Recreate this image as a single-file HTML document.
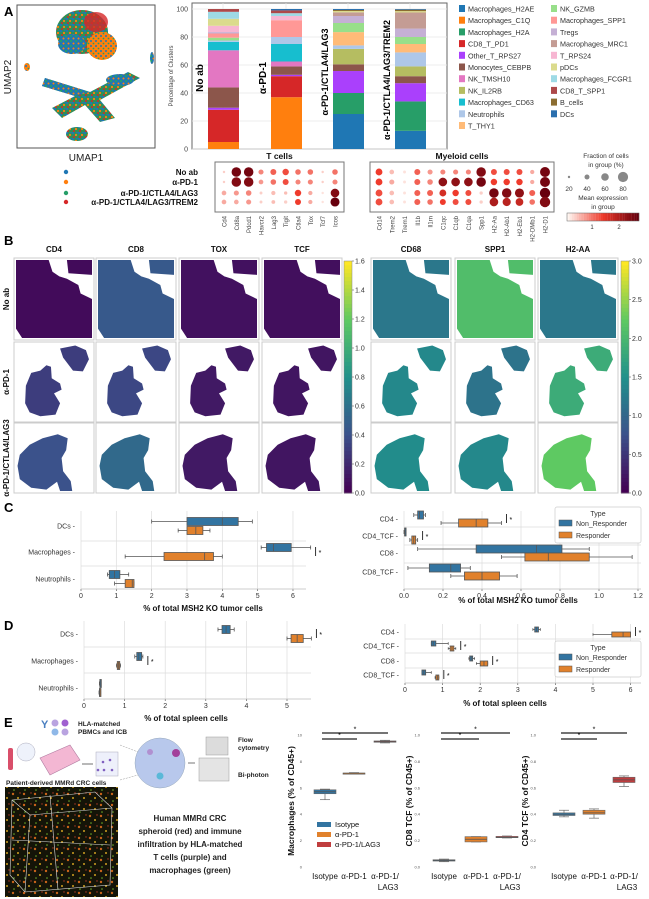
<!DOCTYPE html>
<html><head><meta charset="utf-8"><style>
html,body{margin:0;padding:0;background:#fff;}
svg{display:block;font-family:"Liberation Sans",Arial,sans-serif;}
</style></head><body>
<svg id="fig" width="649" height="899" viewBox="0 0 649 899" xmlns="http://www.w3.org/2000/svg">
<defs>
<pattern id="umapTex" width="6" height="6" patternUnits="userSpaceOnUse">
<rect width="6" height="6" fill="#2f8f56"/><circle cx="1" cy="1" r="1.2" fill="#1f77b4"/><circle cx="4" cy="3" r="1.1" fill="#ff7f0e"/><circle cx="2" cy="5" r="1" fill="#d62728"/><circle cx="5" cy="0.5" r="0.9" fill="#1f77b4"/>
</pattern>
<pattern id="umapTexB" width="5" height="5" patternUnits="userSpaceOnUse">
<rect width="5" height="5" fill="#1f77b4"/><circle cx="1" cy="1" r="1.1" fill="#279e68"/><circle cx="3.5" cy="3.5" r="1" fill="#ff7f0e"/>
</pattern>
<pattern id="umapTexO" width="5" height="5" patternUnits="userSpaceOnUse">
<rect width="5" height="5" fill="#ff7f0e"/><circle cx="1" cy="1" r="1" fill="#1f77b4"/><circle cx="3.5" cy="3.5" r="0.9" fill="#279e68"/>
</pattern>
<pattern id="microTex" width="11" height="11" patternUnits="userSpaceOnUse">
<rect width="11" height="11" fill="#141408"/><circle cx="2" cy="2" r="1.2" fill="#c8641a"/><circle cx="7" cy="6" r="1" fill="#d0a020"/><circle cx="3" cy="9" r="0.8" fill="#6fb02a"/><circle cx="9" cy="1" r="0.7" fill="#b03a26"/>
</pattern>
</defs>
<g id="root"></g>
</svg>
<script>
// ---------- DATA ----------
const clusterNames = ["Macrophages_H2AE","Macrophages_C1Q","Macrophages_H2A","CD8_T_PD1","Other_T_RPS27","Monocytes_CEBPB","NK_TMSH10","NK_IL2RB","Macrophages_CD63","Neutrophils","T_THY1","NK_GZMB","Macrophages_SPP1","Tregs","Macrophages_MRC1","T_RPS24","pDCs","Macrophages_FCGR1","CD8_T_SPP1","B_cells","DCs"];
const clusterColors = ["#1f77b4","#ff7f0e","#279e68","#d62728","#aa40fc","#8c564b","#e377c2","#b5bd61","#17becf","#aec7e8","#ffbb78","#98df8a","#ff9896","#c5b0d5","#c49c94","#f7b6d2","#dbdb8d","#9edae5","#ad494a","#8c6d31","#2a6fae"];
const barGroups = ["No ab","α-PD-1","α-PD-1/CTLA4/LAG3","α-PD-1/CTLA4/LAG3/TREM2"];
const barNoAb = [0,5,0,23,1.5,14.5,26.5,0,6,1,0,2,3,1,0,4.5,5,5,2,0,0];
const barPD1 = [0,37,0,15,1,6,3.5,0,12.5,5,0,0,12,0,0,3,0,2,2,0,1];
const barLAG3 = [25,0,15,0,15.7,4.8,0,11,0,2.5,9.5,6.5,0,5,2.6,0,1,0,0,0.7,0.7];
const barTREM2 = [13,0,21,0,13,5,0,7,0,10,6,5,0,6,11.5,0,1,0,0,1,0.5];
const barTicks = [0,20,40,60,80,100];

const dotRows = ["No ab","α-PD-1","α-PD-1/CTLA4/LAG3","α-PD-1/CTLA4/LAG3/TREM2"];
const groupColors = ["#1f77b4","#ff7f0e","#279e68","#d62728"];
const tGenes = ["Cd4","Cd8a","Pdcd1","Havcr2","Lag3","Tigit","Ctla4","Tox","Tcf7","Icos"];
const tSize = [[0.1,0.9,0.9,0.4,0.5,0.55,0.45,0.45,0.1,0.45],[0.1,0.9,0.9,0.35,0.45,0.5,0.4,0.4,0.1,0.4],[0.35,0.4,0.45,0.15,0.3,0.2,0.55,0.3,0.1,0.8],[0.35,0.35,0.4,0.15,0.25,0.2,0.5,0.3,0.1,0.85]];
const tExpr = [[0.1,0.95,0.95,0.3,0.4,0.45,0.35,0.35,0.1,0.35],[0.1,0.9,0.9,0.25,0.35,0.45,0.3,0.3,0.1,0.3],[0.2,0.25,0.3,0.1,0.15,0.15,0.5,0.2,0.05,0.9],[0.2,0.2,0.25,0.1,0.15,0.1,0.5,0.2,0.05,1.0]];
const mGenes = ["Cd14","Trem2","Trem1","Il1b","Il1rn","C1qc","C1qb","C1qa","Spp1","H2-Aa","H2-Ab1","H2-Eb1","H2-DMb1","H2-D1"];
const mSize = [[0.6,0.35,0.15,0.5,0.4,0.4,0.4,0.4,0.9,0.5,0.5,0.5,0.3,0.95],[0.6,0.4,0.15,0.5,0.45,0.8,0.8,0.8,0.9,0.55,0.55,0.55,0.3,0.95],[0.6,0.35,0.15,0.5,0.5,0.6,0.55,0.5,0.2,0.9,0.9,0.85,0.5,1],[0.6,0.35,0.15,0.5,0.45,0.5,0.5,0.5,0.2,0.8,0.75,0.7,0.45,1]];
const mExpr = [[0.5,0.15,0.05,0.4,0.25,0.3,0.3,0.3,0.9,0.45,0.45,0.45,0.2,0.95],[0.5,0.2,0.05,0.4,0.3,0.85,0.85,0.85,0.95,0.5,0.5,0.5,0.2,0.95],[0.45,0.15,0.05,0.4,0.4,0.6,0.5,0.45,0.1,0.95,0.9,0.85,0.4,1],[0.45,0.15,0.05,0.4,0.35,0.5,0.45,0.45,0.1,0.75,0.7,0.65,0.35,0.9]];

const spatialGenesT = ["CD4","CD8","TOX","TCF"];
const spatialGenesM = ["CD68","SPP1","H2-AA"];
const spatialRows = ["No ab","α-PD-1","α-PD-1/CTLA4/LAG3"];
const spatialT = [[0.05,0.45,0.08,0.07],[0.3,0.35,0.12,0.1],[0.4,0.55,0.12,0.1]];
const spatialM = [[1.2,2.1,1.2],[1.4,1.15,1.85],[1.45,1.4,2.25]];
const cbarTTicks = [0,0.2,0.4,0.6,0.8,1.0,1.2,1.4,1.6];
const cbarMTicks = [0,0.5,1.0,1.5,2.0,2.5,3.0];

// box stats: [min, q1, median, q3, max]
const cLeftCats = ["DCs","Macrophages","Neutrophils"];
const cLeftNon = [[2.0,3.0,4.0,4.45,4.85],[5.1,5.25,5.45,5.95,6.5],[0.75,0.8,0.95,1.1,1.35]];
const cLeftResp = [[2.75,3.0,3.25,3.45,3.65],[1.25,2.35,3.5,3.75,4.0],[0.95,1.25,1.45,1.5,1.5]];
const cLeftTicks = [0,1,2,3,4,5,6];
const cRightCats = ["CD4","CD4_TCF","CD8","CD8_TCF"];
const cRightNon = [[0.05,0.07,0.08,0.1,0.11],[0.0,0.003,0.005,0.008,0.01],[0.07,0.37,0.68,0.81,0.95],[0.02,0.13,0.24,0.29,0.34]];
const cRightResp = [[0.19,0.28,0.37,0.43,0.5],[0.03,0.04,0.05,0.06,0.07],[0.5,0.62,0.74,0.95,1.17],[0.24,0.31,0.4,0.49,0.58]];
const cRightTicks = [0,0.2,0.4,0.6,0.8,1.0,1.2];
const dLeftNon = [[3.3,3.4,3.5,3.6,3.7],[1.25,1.3,1.35,1.42,1.45],[0.38,0.39,0.4,0.41,0.42]];
const dLeftResp = [[5.0,5.1,5.25,5.4,5.6],[0.8,0.82,0.85,0.88,0.9],[0.37,0.38,0.39,0.4,0.41]];
const dLeftTicks = [0,1,2,3,4,5];
const dRightNon = [[3.4,3.45,3.5,3.55,3.6],[0.7,0.7,0.75,0.82,1.15],[1.7,1.72,1.76,1.8,1.85],[0.45,0.45,0.5,0.55,0.7]];
const dRightResp = [[5.0,5.5,5.8,6.0,6.0],[1.15,1.2,1.25,1.3,1.35],[1.9,2.0,2.1,2.2,2.2],[0.8,0.82,0.86,0.9,0.9]];
const dRightTicks = [0,1,2,3,4,5,6];

const eGroups = ["Isotype","α-PD-1","α-PD-1/LAG3"];
const eColors = ["#3274a1","#e1812c","#c03d3e"];
const eMac = [[5.1,5.55,5.7,5.85,5.9],[7.05,7.08,7.1,7.12,7.15],[9.4,9.45,9.5,9.55,9.6]];
const eCD8 = [[0.04,0.045,0.05,0.055,0.06],[0.19,0.19,0.21,0.23,0.23],[0.22,0.222,0.225,0.232,0.235]];
const eCD4 = [[0.38,0.39,0.4,0.41,0.43],[0.37,0.4,0.41,0.43,0.44],[0.61,0.64,0.66,0.68,0.69]];
const eMacTicks = [0,2,4,6,8,10];
const eFracTicks = [0,0.2,0.4,0.6,0.8,1.0];

// ---------- HELPERS ----------
const NS="http://www.w3.org/2000/svg";
const root=document.getElementById('root');
function mk(tag,attrs,parent){const e=document.createElementNS(NS,tag);for(const k in attrs)e.setAttribute(k,attrs[k]);(parent||root).appendChild(e);return e;}
function txt(x,y,s,size,opts,parent){const o=Object.assign({x:x,y:y,'font-size':size,fill:'#222'},opts||{});const t=mk('text',o,parent);t.textContent=s;return t;}
function reds(v){v=Math.max(0,Math.min(1,v));const a=[255,245,240],b=[239,59,44],c=[103,0,13];let r,g,bl;if(v<0.5){const t=v/0.5;r=a[0]+(b[0]-a[0])*t;g=a[1]+(b[1]-a[1])*t;bl=a[2]+(b[2]-a[2])*t;}else{const t=(v-0.5)/0.5;r=b[0]+(c[0]-b[0])*t;g=b[1]+(c[1]-b[1])*t;bl=b[2]+(c[2]-b[2])*t;}return `rgb(${r|0},${g|0},${bl|0})`;}
function viridis(v){v=Math.max(0,Math.min(1,v));const st=[[68,1,84],[59,82,139],[33,145,140],[94,201,98],[253,231,37]];const p=v*4,i=Math.min(3,Math.floor(p)),t=p-i;const a=st[i],b=st[i+1];return `rgb(${(a[0]+(b[0]-a[0])*t)|0},${(a[1]+(b[1]-a[1])*t)|0},${(a[2]+(b[2]-a[2])*t)|0})`;}
function label(x,y,s){const t=txt(x,y,s,13,{'font-weight':'bold',fill:'#000'});}

// ---------- PANEL A ----------
label(4,16,'A');
{const g=mk('g',{});
mk('rect',{x:17,y:5,width:138,height:143,fill:'#fff',stroke:'#555','stroke-width':1},g);
mk('ellipse',{cx:82,cy:32,rx:26,ry:22,fill:'url(#umapTex)'},g);
mk('ellipse',{cx:96,cy:22,rx:12,ry:10,fill:'#d62728',opacity:0.8},g);
mk('ellipse',{cx:102,cy:46,rx:15,ry:14,fill:'url(#umapTexO)'},g);
mk('ellipse',{cx:72,cy:44,rx:14,ry:10,fill:'url(#umapTexB)'},g);
mk('path',{d:'M45,78 L90,92 L128,72 L140,78 L100,100 L115,118 L100,122 L85,105 L62,118 L52,108 L75,96 L42,86 Z',fill:'url(#umapTex)'},g);
mk('path',{d:'M45,78 L90,92 L75,96 L42,86 Z',fill:'url(#umapTexB)'},g);
mk('ellipse',{cx:120,cy:80,rx:14,ry:6,fill:'url(#umapTexB)'},g);
mk('ellipse',{cx:77,cy:134,rx:11,ry:7,fill:'url(#umapTex)'},g);
mk('ellipse',{cx:27,cy:67,rx:3,ry:4,fill:'url(#umapTexO)'},g);
mk('ellipse',{cx:152,cy:58,rx:2,ry:6,fill:'url(#umapTexB)'},g);
let t=txt(11,77,'UMAP2',10,{'text-anchor':'middle',transform:'rotate(-90 11 77)'});
t=txt(86,161,'UMAP1',10,{'text-anchor':'middle'});}

{const g=mk('g',{});
const y0=149,y100=9,yS=v=>y0-(v/100)*(y0-y100);
mk('rect',{x:192,y:3,width:255,height:146,fill:'#fff',stroke:'#666','stroke-width':1},g);
barTicks.forEach(v=>{mk('line',{x1:192,x2:447,y1:yS(v),y2:yS(v),stroke:'#e6e6e6','stroke-width':0.7},g);const t=txt(188,yS(v)+2.5,String(v),7,{'text-anchor':'end',fill:'#444'},g);});
const series=[barNoAb,barPD1,barLAG3,barTREM2];const xs=[208,271,333,395];
series.forEach((arr,bi)=>{mk('line',{x1:xs[bi]+15,x2:xs[bi]+15,y1:3,y2:149,stroke:'#e6e6e6','stroke-width':0.7},g);let cum=0;arr.forEach((v,ci)=>{if(v<=0)return;const r=mk('rect',{x:xs[bi],y:yS(cum+v),width:31,height:yS(cum)-yS(cum+v),fill:clusterColors[ci]},g);cum+=v;});
const lx=xs[bi]-5;const ly=bi<2?78:(bi==2?72:80);const t=txt(lx,ly,barGroups[bi],bi<2?10:9,{'font-weight':'bold','text-anchor':'middle',fill:'#000',transform:`rotate(-90 ${lx} ${ly})`},g);});
const t=txt(173,76,'Percentage of Clusters',6,{'text-anchor':'middle',fill:'#444',transform:'rotate(-90 173 76)'},g);}

{const g=mk('g',{});
clusterNames.forEach((n,i)=>{const col=i<11?0:1,row=i<11?i:i-11;const x=col?551:459,y=6+row*11.7;const r=mk('rect',{x:x,y:y-1,width:6,height:7,fill:clusterColors[i]},g);const t=txt(x+9,y+5.5,n,7.2,{fill:'#333'},g);});}

{const g=mk('g',{});
const rowY=[172,182,193,202];
dotRows.forEach((n,i)=>{const t=txt(198,rowY[i]+3,n,8,{'font-weight':'bold','text-anchor':'end',fill:'#111'},g);const c=mk('circle',{cx:66,cy:rowY[i],r:2.2,fill:groupColors[i]},g);});
function block(x0,x1,genes,size,expr,title,name){mk('rect',{x:x0,y:162,width:x1-x0,height:50,fill:'#fff',stroke:'#777','stroke-width':1},g);const st=(x1-x0-18)/(genes.length-1);
let t=txt((x0+x1)/2,159,title,8.5,{'font-weight':'bold','text-anchor':'middle',fill:'#111'},g);
genes.forEach((gn,j)=>{const x=x0+9+j*st;size.forEach((row,i)=>{const c=mk('circle',{cx:x,cy:rowY[i],r:0.8+row[j]*4.4,fill:reds(expr[i][j])},g);});const tt=txt(x+2.5,216,gn,6,{'text-anchor':'end',fill:'#444',transform:`rotate(-90 ${x+2.5} 216)`},g);});}
block(215,344,tGenes,tSize,tExpr,'T cells','t-cells');
block(370,554,mGenes,mSize,mExpr,'Myeloid cells','myeloid-cells');
let t=txt(606,158,'Fraction of cells',6.5,{'text-anchor':'middle',fill:'#333'},g);
t=txt(606,167,'in group (%)',6.5,{'text-anchor':'middle',fill:'#333'},g);
[20,40,60,80].forEach((v,i)=>{const c=mk('circle',{cx:569+i*18,cy:177,r:1.2+i*1.3,fill:'#888'},g);const tt=txt(569+i*18,191,String(v),6.5,{'text-anchor':'middle',fill:'#333'},g);});
t=txt(603,200,'Mean expression',6.5,{'text-anchor':'middle',fill:'#333'},g);
t=txt(603,209,'in group',6.5,{'text-anchor':'middle',fill:'#333'},g);
for(let i=0;i<30;i++){mk('rect',{x:567+i*2.4,y:213,width:2.5,height:8,fill:reds(i/29)},g);}
mk('rect',{x:567,y:213,width:72,height:8,fill:'none',stroke:'#666','stroke-width':0.5},g);
t=txt(592,229,'1',6,{'text-anchor':'middle',fill:'#333'},g);
t=txt(619,229,'2',6,{'text-anchor':'middle',fill:'#333'},g);}

// ---------- PANEL B ----------
label(4,245,'B');
{const g=mk('g',{});
const shapes=[
'M0,0 L0.43,0 L0.48,0.15 L0.57,0.21 L0.67,0.24 L0.82,0.32 L0.85,0.43 L1,0.5 L1,1 L0.08,1 L0,0.88 Z M0.67,0 L1,0 L1,0.19 L0.69,0.17 Z',
'M0.2,0.38 L0.32,0.35 L0.4,0.28 L0.46,0.3 L0.47,0.45 L0.58,0.52 L0.6,0.6 L0.5,0.65 L0.58,0.78 L0.52,0.93 L0.32,0.95 L0.18,0.9 L0.12,0.78 L0.13,0.55 Z M0.58,0.06 L0.78,0.02 L0.92,0.08 L0.96,0.2 L0.88,0.36 L0.75,0.35 L0.62,0.18 Z',
'M0.05,0.45 L0.18,0.3 L0.35,0.2 L0.55,0.14 L0.68,0.2 L0.66,0.38 L0.6,0.5 L0.62,0.7 L0.72,0.85 L0.74,1 L0.58,1 L0.54,0.86 L0.4,0.98 L0.2,0.95 L0.05,0.82 L0.02,0.62 Z'];
const colXT=[14,96,179,262],colXM=[371,455,538],rowYs=[258,342,423],rowH=[82,80,70],tileW=80;
function tile(x,y,w,h,shapeIdx,color,name){mk('rect',{x:x,y:y,width:w,height:h,fill:'#fff',stroke:'#ccc','stroke-width':1},g);const p=mk('path',{d:shapes[shapeIdx],fill:color,transform:`translate(${x+2} ${y+2}) scale(${w-4} ${h-4})`},g);}
spatialGenesT.forEach((gn,j)=>{const t=txt(colXT[j]+40,252,gn,8,{'font-weight':'bold','text-anchor':'middle',fill:'#111'},g);spatialRows.forEach((r,i)=>tile(colXT[j],rowYs[i],tileW,rowH[i],i,viridis(spatialT[i][j]/1.6),'tile-'+gn+'-'+i));});
spatialGenesM.forEach((gn,j)=>{const t=txt(colXM[j]+40,252,gn,8,{'font-weight':'bold','text-anchor':'middle',fill:'#111'},g);spatialRows.forEach((r,i)=>tile(colXM[j],rowYs[i],tileW,rowH[i],i,viridis(spatialM[i][j]/3.0),'tile-'+gn+'-'+i));});
spatialRows.forEach((r,i)=>{const cy=rowYs[i]+rowH[i]/2;const t=txt(9,cy,r,8,{'font-weight':'bold','text-anchor':'middle',fill:'#111',transform:`rotate(-90 9 ${cy})`},g);});
function cbar(x,max,ticks,name){const top=261,bot=493;for(let i=0;i<60;i++){mk('rect',{x:x,y:bot-(i+1)*(bot-top)/60,width:8,height:(bot-top)/60+0.5,fill:viridis(i/59)},g);}mk('rect',{x:x,y:top,width:8,height:bot-top,fill:'none',stroke:'#888','stroke-width':0.5},g);ticks.forEach(v=>{const y=bot-v/max*(bot-top);mk('line',{x1:x+8,x2:x+10,y1:y,y2:y,stroke:'#444','stroke-width':0.5},g);const t=txt(x+11,y+2.5,v.toFixed(1),7,{fill:'#333'},g);});}
cbar(344,1.6,cbarTTicks,'t-colorbar');cbar(621,3.0,cbarMTicks,'m-colorbar');}

// ---------- BOX HELPERS ----------
function hbox(g,xS,cy,s,color,hh,name){mk('line',{x1:xS(s[0]),x2:xS(s[1]),y1:cy,y2:cy,stroke:'#555','stroke-width':0.8},g);mk('line',{x1:xS(s[3]),x2:xS(s[4]),y1:cy,y2:cy,stroke:'#555','stroke-width':0.8},g);mk('line',{x1:xS(s[0]),x2:xS(s[0]),y1:cy-hh/2,y2:cy+hh/2,stroke:'#555','stroke-width':0.8},g);mk('line',{x1:xS(s[4]),x2:xS(s[4]),y1:cy-hh/2,y2:cy+hh/2,stroke:'#555','stroke-width':0.8},g);const r=mk('rect',{x:xS(s[1]),y:cy-hh,width:Math.max(1.5,xS(s[3])-xS(s[1])),height:hh*2,fill:color,stroke:'#555','stroke-width':0.8},g);mk('line',{x1:xS(s[2]),x2:xS(s[2]),y1:cy-hh,y2:cy+hh,stroke:'#555','stroke-width':0.8},g);}
function hplot(opts){const g=mk('g',{});const xS=v=>opts.x0+v*opts.k;
mk('rect',{x:opts.x0,y:opts.top,width:opts.right-opts.x0,height:opts.bot-opts.top,fill:'#fff'},g);
opts.ticks.forEach(v=>{mk('line',{x1:xS(v),x2:xS(v),y1:opts.top,y2:opts.bot,stroke:'#ddd','stroke-width':0.7},g);mk('line',{x1:xS(v),x2:xS(v),y1:opts.bot,y2:opts.bot+2,stroke:'#444','stroke-width':0.6},g);const t=txt(xS(v),opts.bot+9,opts.fmt(v),7,{'text-anchor':'middle',fill:'#333'},g);});
mk('line',{x1:opts.x0,x2:opts.right,y1:opts.bot,y2:opts.bot,stroke:'#bbb','stroke-width':0.7},g);
opts.seps.forEach(y=>mk('line',{x1:opts.x0,x2:opts.right,y1:y,y2:y,stroke:'#ddd','stroke-width':0.7},g));
opts.cats.forEach((c,i)=>{const cy=opts.cy[i];const t=txt(opts.x0-6,cy+2.5,c+' -',7,{'text-anchor':'end',fill:'#333'},g);hbox(g,xS,cy-opts.off,opts.non[i],'#3274a1',opts.hh,'box-non-responder-'+c);hbox(g,xS,cy+opts.off,opts.resp[i],'#e1812c',opts.hh,'box-responder-'+c);if(opts.sig[i]){const mx=xS(Math.max(opts.non[i][4],opts.resp[i][4]))+5;mk('line',{x1:mx,x2:mx,y1:cy-5,y2:cy+4,stroke:'#000','stroke-width':0.8},g);const st=txt(mx+3,cy+3,'*',7,{fill:'#000'},g);}});
const t=txt(opts.xl[0],opts.xl[1],opts.xlabel,8,{'font-weight':'bold','text-anchor':'middle',fill:'#111'},g);
if(opts.legend){const [lx,ly]=opts.legend;const lg=mk('g',{},g);mk('rect',{x:lx,y:ly,width:86,height:36,fill:'#fff',stroke:'#ccc','stroke-width':0.7,rx:2},lg);let tt=txt(lx+43,ly+9,'Type',7,{'text-anchor':'middle',fill:'#333'},lg);mk('rect',{x:lx+4,y:ly+13,width:13,height:6,fill:'#3274a1',stroke:'#555','stroke-width':0.5},lg);tt=txt(lx+21,ly+19,'Non_Responder',7,{fill:'#333'},lg);mk('rect',{x:lx+4,y:ly+25,width:13,height:6,fill:'#e1812c',stroke:'#555','stroke-width':0.5},lg);tt=txt(lx+21,ly+31,'Responder',7,{fill:'#333'},lg);}}

// ---------- PANEL C ----------
label(4,512,'C');
hplot({name:'tumor-myeloid-boxplot',x0:81,k:35.33,right:306,top:511,bot:589,ticks:cLeftTicks,fmt:v=>String(v),seps:[541,566],cats:cLeftCats,cy:[526,552,579],off:4.5,hh:4,non:cLeftNon,resp:cLeftResp,sig:[false,true,false],xlabel:'% of total MSH2 KO tumor cells',xl:[203,611]});
hplot({name:'tumor-tcell-boxplot',x0:404,k:195,right:641,top:511,bot:589,ticks:cRightTicks,fmt:v=>v.toFixed(1),seps:[527,545,563],cats:cRightCats,cy:[519,536,553,572],off:4,hh:4,non:cRightNon,resp:cRightResp,sig:[true,true,false,false],xlabel:'% of total MSH2 KO tumor cells',xl:[518,603],legend:[555,507]});

// ---------- PANEL D ----------
label(4,630,'D');
hplot({name:'spleen-myeloid-boxplot',x0:84,k:40.6,right:311,top:621,bot:699,ticks:dLeftTicks,fmt:v=>String(v),seps:[647,673],cats:cLeftCats,cy:[634,661,688],off:4.5,hh:4,non:dLeftNon,resp:dLeftResp,sig:[true,true,false],xlabel:'% of total spleen cells',xl:[186,721]});
hplot({name:'spleen-tcell-boxplot',x0:405,k:37.6,right:641,top:624,bot:683,ticks:dRightTicks,fmt:v=>String(v),seps:[639,653,668],cats:cRightCats,cy:[632,646,661,675],off:2.5,hh:2.5,non:dRightNon,resp:dRightResp,sig:[true,true,true,true],xlabel:'% of total spleen cells',xl:[505,706],legend:[555,641]});

// ---------- PANEL E ----------
label(4,727,'E');
{const g=mk('g',{});
let t=txt(41,728,'Y',11,{'font-weight':'bold',fill:'#4a7fc0'},g);
[[55,723,'#b9a3e0'],[65,723,'#a060d0'],[55,732,'#8fb8e8'],[65,732,'#b9a3e0']].forEach(c=>mk('circle',{cx:c[0],cy:c[1],r:3.5,fill:c[2]},g));
t=txt(78,726,'HLA-matched',6.5,{'font-weight':'bold',fill:'#222'},g);
t=txt(78,734,'PBMCs and ICB',6.5,{'font-weight':'bold',fill:'#222'},g);
mk('rect',{x:8,y:748,width:5,height:22,fill:'#d94f6a',rx:2},g);
mk('circle',{cx:26,cy:752,r:9,fill:'#eef2fb',stroke:'#aab',"stroke-width":0.5},g);
mk('path',{d:'M40,758 L70,745 L80,760 L50,775 Z',fill:'#f3b7d3',stroke:'#b07aa0','stroke-width':0.6},g);
mk('line',{x1:82,x2:93,y1:764,y2:764,stroke:'#888','stroke-width':1.2},g);
mk('rect',{x:96,y:752,width:22,height:24,fill:'#eef0fb',stroke:'#aab','stroke-width':0.5},g);
[[103,762],[110,760],[104,770],[112,770],[98,770]].forEach(c=>mk('circle',{cx:c[0],cy:c[1],r:1.3,fill:'#8060c0'},g));
mk('line',{x1:120,x2:138,y1:745,y2:752,stroke:'#999','stroke-width':0.5,'stroke-dasharray':'2 1'},g);
mk('line',{x1:120,x2:138,y1:780,y2:775,stroke:'#999','stroke-width':0.5,'stroke-dasharray':'2 1'},g);
mk('circle',{cx:160,cy:763,r:25,fill:'#b8c8ec',stroke:'#9ab','stroke-width':0.5},g);
mk('circle',{cx:176,cy:753,r:4,fill:'#a2409a'},g);mk('circle',{cx:160,cy:776,r:3.5,fill:'#5ab8d8'},g);mk('circle',{cx:150,cy:752,r:3,fill:'#b090d0'},g);
mk('line',{x1:188,x2:195,y1:763,y2:763,stroke:'#555','stroke-width':0.8},g);
mk('rect',{x:206,y:737,width:22,height:18,fill:'#dcdcdc',stroke:'#999','stroke-width':0.5},g);
mk('rect',{x:199,y:758,width:30,height:23,fill:'#e4e4e4',stroke:'#999','stroke-width':0.5},g);
t=txt(238,742,'Flow',6.5,{'font-weight':'bold',fill:'#222'},g);
t=txt(238,750,'cytometry',6.5,{'font-weight':'bold',fill:'#222'},g);
t=txt(238,777,'Bi-photon',6.5,{'font-weight':'bold',fill:'#222'},g);
t=txt(6,785,'Patient-derived MMRd CRC cells',6.5,{'font-weight':'bold',fill:'#222'},g);
const m=mk('rect',{x:5,y:787,width:113,height:110,fill:'url(#microTex)'},g);
mk('path',{d:'M12,800 L95,792 L112,808 L110,885 L25,892 L10,875 Z M12,800 L30,815 L112,808 M30,815 L25,892 M50,795 L58,890 M12,840 L110,845',fill:'none',stroke:'#ddd','stroke-width':0.6},g);
['Human MMRd CRC','spheroid (red) and immune','infiltration by HLA-matched','T cells (purple) and','macrophages (green)'].forEach((s,i)=>{const tt=txt(190,821+i*13,s,8,{'font-weight':'bold','text-anchor':'middle',fill:'#222'},g);});}

function vplot(opts){const g=mk('g',{});const y0=867,y1=735,yS=v=>y0-(v/opts.max)*(y0-y1);
opts.ticks.forEach(v=>{const t=txt(opts.ax-2,yS(v)+1.5,opts.max>5?String(v):v.toFixed(1),4,{'text-anchor':'end',fill:'#555'},g);});
const t=txt(opts.ax-10,801,opts.ylabel,8.5,{'font-weight':'bold','text-anchor':'middle',fill:'#111',transform:`rotate(-90 ${opts.ax-10} 801)`},g);
opts.data.forEach((s,i)=>{const cx=opts.xs[i],hw=11;mk('line',{x1:cx,x2:cx,y1:yS(s[0]),y2:yS(s[4]),stroke:'#666','stroke-width':0.7},g);mk('line',{x1:cx-5,x2:cx+5,y1:yS(s[0]),y2:yS(s[0]),stroke:'#666','stroke-width':0.7},g);mk('line',{x1:cx-5,x2:cx+5,y1:yS(s[4]),y2:yS(s[4]),stroke:'#666','stroke-width':0.7},g);const r=mk('rect',{x:cx-hw,y:yS(s[3]),width:hw*2,height:Math.max(1.2,yS(s[1])-yS(s[3])),fill:eColors[i],stroke:'#666','stroke-width':0.6},g);mk('line',{x1:cx-hw,x2:cx+hw,y1:yS(s[2]),y2:yS(s[2]),stroke:'#555','stroke-width':0.7},g);
const l1=txt(cx,879,i<2?eGroups[i]:'α-PD-1/',8,{'text-anchor':'middle',fill:'#111'},g);if(i==2){const l2=txt(cx+3,890,'LAG3',8,{'text-anchor':'middle',fill:'#111'},g);}});
[[0,2,733],[0,1,739]].forEach(b=>{mk('line',{x1:opts.xs[b[0]]-3,x2:opts.xs[b[1]]+3,y1:b[2],y2:b[2],stroke:'#222','stroke-width':1.3},g);const s=txt((opts.xs[b[0]]+opts.xs[b[1]])/2,b[2]-1.5,'*',7,{'text-anchor':'middle',fill:'#000'},g);});
if(opts.legend){const lg=mk('g',{},g);eGroups.forEach((n,i)=>{mk('rect',{x:317,y:822+i*10,width:14,height:5,fill:eColors[i]},lg);const tt=txt(335,827+i*10,n,7.5,{fill:'#111'},lg);});}}
vplot({name:'macrophage-boxplot',ax:304,max:10,ticks:eMacTicks,ylabel:'Macrophages (% of CD45+)',data:eMac,xs:[325,354,385],legend:true});
vplot({name:'cd8-tcf-boxplot',ax:422,max:1,ticks:eFracTicks,ylabel:'CD8 TCF (% of CD45+)',data:eCD8,xs:[444,476,507]});
vplot({name:'cd4-tcf-boxplot',ax:538,max:1,ticks:eFracTicks,ylabel:'CD4 TCF (% of CD45+)',data:eCD4,xs:[564,594,624]});
</script>
</body></html>
